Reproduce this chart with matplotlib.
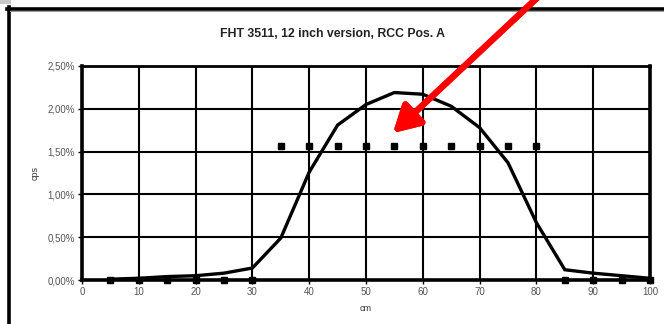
import matplotlib
matplotlib.use("Agg")
import matplotlib.pyplot as plt
from matplotlib.lines import Line2D
from matplotlib.patches import Rectangle
from matplotlib.ticker import FuncFormatter

plt.rcParams['font.family'] = ['Liberation Sans', 'DejaVu Sans']

cm = [5, 10, 15, 20, 25, 30, 35, 40, 45, 50, 55, 60, 65, 70, 75, 80, 85, 90, 95, 100]
profile = [0.01, 0.02, 0.04, 0.05, 0.08, 0.14, 0.49, 1.26, 1.81, 2.05, 2.19, 2.17, 2.03, 1.78, 1.37, 0.67, 0.12, 0.08, 0.05, 0.02]
marks = [0.0, 0.0, 0.0, 0.0, 0.0, 0.0, 1.57, 1.57, 1.57, 1.57, 1.57, 1.57, 1.57, 1.57, 1.57, 1.57, 0.0, 0.0, 0.0, 0.0]
title = "FHT 3511, 12 inch version, RCC Pos. A"

W, H = 664, 324
fig = plt.figure(figsize=(W / 100, H / 100), dpi=100)
fig.patch.set_facecolor('white')

ax = fig.add_axes([82 / W, 1 - 280 / H, (650 - 82) / W, (280 - 66) / H])
ax.plot(cm, profile, color='black', lw=2.4, solid_joinstyle='miter', zorder=3)
ax.plot(cm, marks, ls='none', marker='s', ms=5, color='black', zorder=4, clip_on=False)

ax.set_xlim(0, 100)
ax.set_ylim(0, 2.5)
ax.set_xticks(range(0, 101, 10))
ax.set_yticks([0, 0.5, 1.0, 1.5, 2.0, 2.5])
ax.yaxis.set_major_formatter(FuncFormatter(lambda v, p: f"{v:.2f}%".replace('.', ',')))
ax.grid(True, color='black', lw=1.5)
ax.set_axisbelow(True)
for s in ['left', 'right', 'bottom']:
    ax.spines[s].set_linewidth(2.6)
ax.spines['top'].set_linewidth(2.0)
ax.tick_params(axis='both', labelsize=7, colors='#555555', length=3, width=1, pad=2)
ax.tick_params(axis='both', color='black')
ax.set_xlabel("cm", fontsize=6.5, color='#333333', labelpad=5)
ax.set_ylabel("cps", fontsize=6.5, color='#333333', labelpad=6)
ax.set_title(title, fontsize=8.8, fontweight='bold', color='#222222', pad=21,
             x=(332 - 82) / (650 - 82))

# outer frame
fig.add_artist(Rectangle((0, 1 - 4 / H), 11 / W, 4 / H, transform=fig.transFigure, color='#c8c8c8', lw=0))
fig.add_artist(Line2D([8.5 / W, 8.5 / W], [0, 1 - 7 / H], transform=fig.transFigure, color='black', lw=2.6))
fig.add_artist(Line2D([7 / W, 1], [1 - 8.5 / H, 1 - 8.5 / H], transform=fig.transFigure, color='black', lw=2.6))
fig.add_artist(Line2D([10 / W, 1], [1 - 11 / H, 1 - 11 / H], transform=fig.transFigure, color='#999999', lw=0.8))

# red arrow
fig.add_artist(plt.annotate('', xy=(393, H - 133), xycoords='figure pixels',
                            xytext=(537, H + 2), textcoords='figure pixels',
                            arrowprops=dict(arrowstyle='-|>,head_length=1.6,head_width=0.9',
                                            color='#ff0000', lw=4.5, shrinkA=0, shrinkB=0)))

fig.savefig("out.png", dpi=100, facecolor='white')
